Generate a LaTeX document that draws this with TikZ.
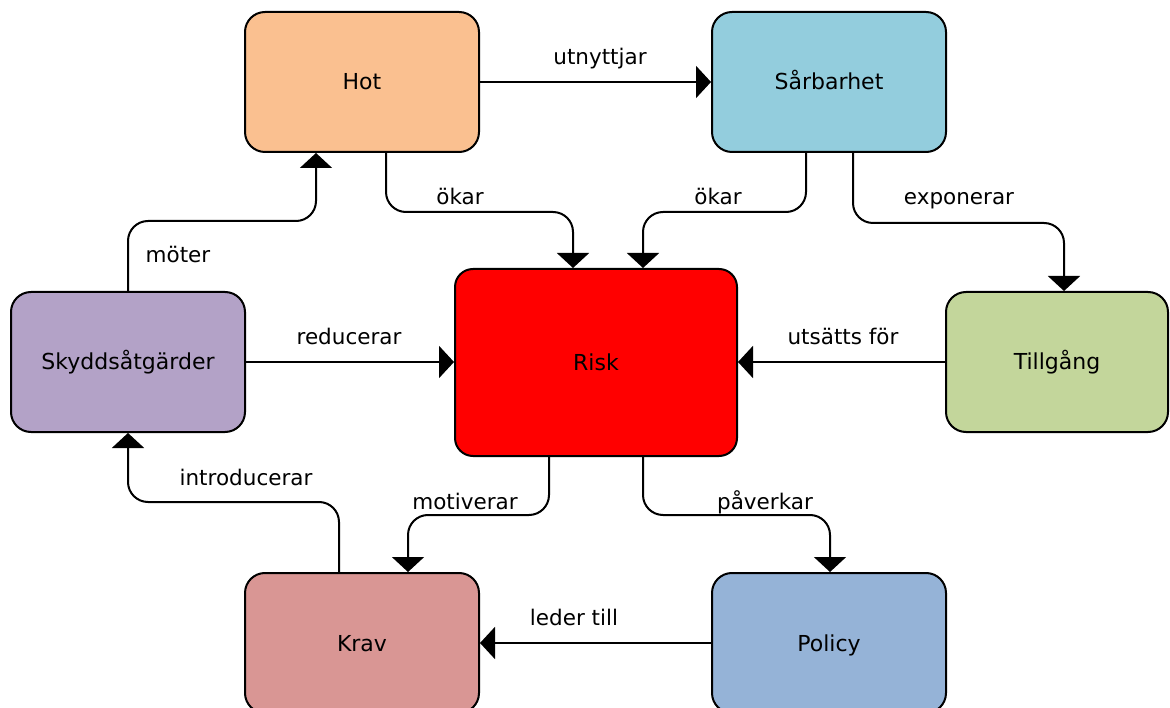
\documentclass[tikz,border=0pt]{standalone}
\usepackage{fontspec}
\setmainfont{DejaVu Sans}
\usetikzlibrary{arrows.meta,calc}
\definecolor{cHot}{HTML}{FAC090}
\definecolor{cSar}{HTML}{93CDDD}
\definecolor{cRisk}{HTML}{FF0000}
\definecolor{cSky}{HTML}{B3A2C7}
\definecolor{cTil}{HTML}{C3D69B}
\definecolor{cKrav}{HTML}{D99694}
\definecolor{cPol}{HTML}{95B3D7}
\begin{document}
\begin{tikzpicture}[x=1pt,y=-1pt,
  box/.style={draw=black,line width=2pt,rounded corners=20pt,minimum width=234pt,minimum height=140pt,
    inner sep=0pt,text height=16pt,text depth=0pt,font=\fontsize{22}{26}\selectfont},
  conn/.style={line width=2pt,rounded corners=20pt,-{Triangle[width=32pt,length=15pt]}},
  lbl/.style={anchor=base,inner sep=0pt,font=\fontsize{21.5}{25}\selectfont}]
\useasboundingbox (0,0) rectangle (1170,708);
\clip (0,0) rectangle (1170,708);
\fill[white] (0,0) rectangle (1170,708);
\node[box,fill=cHot] (hot) at (362,82) {Hot};
\node[box,fill=cSar] (sar) at (829,82) {Sårbarhet};
\node[box,fill=cRisk,minimum width=282pt,minimum height=187pt,rounded corners=18pt] (risk) at (596,362.5) {Risk};
\node[box,fill=cSky] (sky) at (128,362) {Skyddsåtgärder};
\node[box,fill=cTil,minimum width=222pt] (til) at (1057,362) {Tillgång};
\node[box,fill=cKrav] (krav) at (362,643) {Krav};
\node[box,fill=cPol] (pol) at (829,643) {Policy};
% connectors
\draw[conn] (hot.east) -- (sar.west);
\draw[conn] ($(hot.south)+(24,0)$) -- ++(0,59) -| ($(risk.north)+(-23,0)$);
\draw[conn] ($(sar.south)+(-23,0)$) -- ++(0,59) -| ($(risk.north)+(47,0)$);
\draw[conn] ($(sar.south)+(24,0)$) -- ++(0,70) -| ($(til.north)+(7,0)$);
\draw[conn] (sky.north) -- ++(0,-70) -| ($(hot.south)+(-46,0)$);
\draw[conn] (sky.east) -- (sky.east -| risk.west);
\draw[conn] (til.west) -- (til.west -| risk.east);
\draw[conn] ($(risk.south)+(-47,0)$) -- ++(0,58) -| ($(krav.north)+(46,0)$);
\draw[conn] ($(risk.south)+(47,0)$) -- ++(0,58) -| ($(pol.north)+(1,0)$);
\draw[conn] ($(krav.north)+(-23,0)$) -- ++(0,-70) -| (sky.south);
\draw[conn] (pol.west) -- (krav.east);
% labels
\node[lbl] (l1) at (600,65) {utnyttjar};
\node[lbl] (l2) at (460,205) {ökar};
\node[lbl] (l3) at (718,205) {ökar};
\node[lbl] (l4) at (959,205) {exponerar};
\node[lbl] (l5) at (178,263) {möter};
\node[lbl] (l6) at (349,345) {reducerar};
\node[lbl] (l7) at (843,345) {utsätts för};
\node[lbl] (l8) at (246,485) {introducerar};
\node[lbl] (l9) at (465,509) {motiverar};
\node[lbl] (l10) at (765,509) {påverkar};
\node[lbl] (l11) at (574,625) {leder till};
\end{tikzpicture}
\end{document}
